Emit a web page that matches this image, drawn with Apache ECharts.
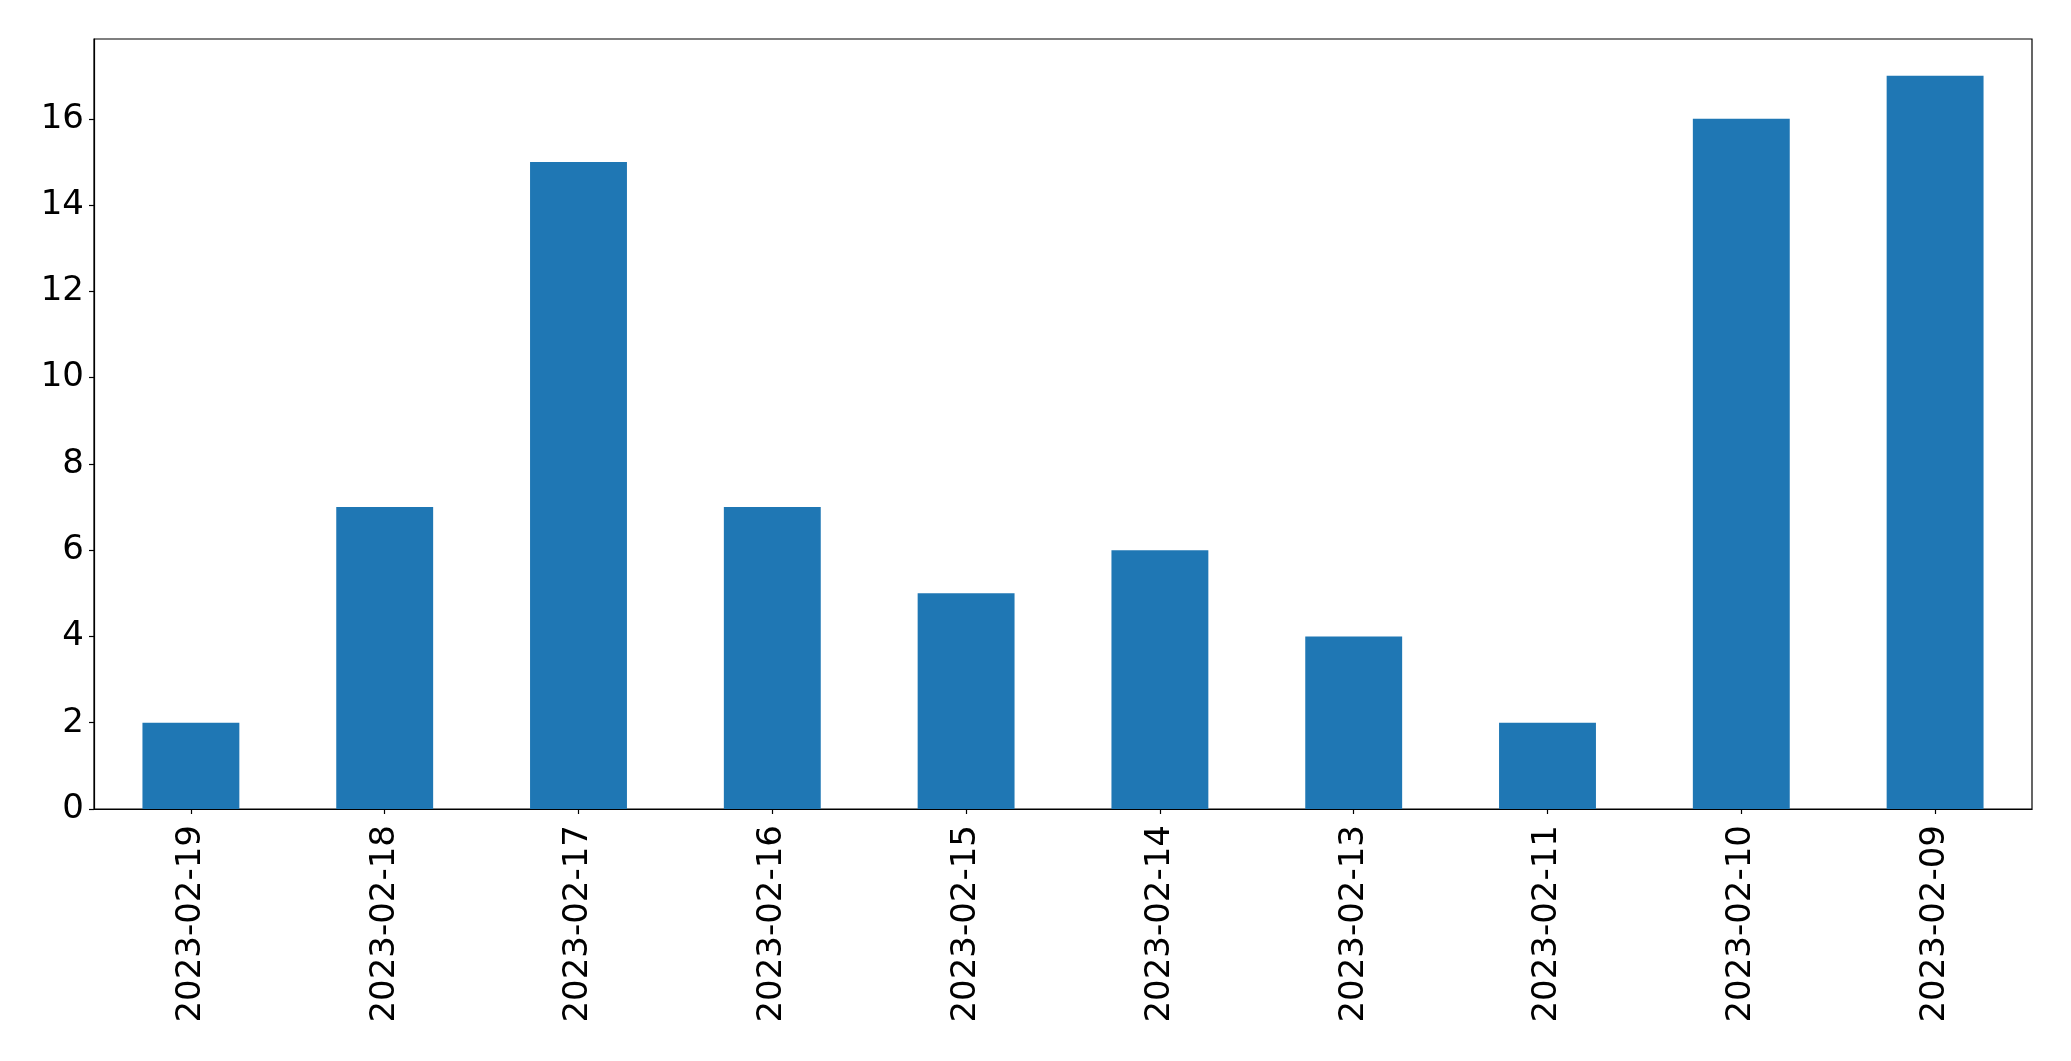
<!DOCTYPE html>
<html>
<head>
<meta charset="utf-8">
<script src="https://cdn.jsdelivr.net/npm/echarts@6/dist/echarts.min.js"></script>
<style>html,body{margin:0;padding:0;background:#fff;}#c{width:2071px;height:1061px;}</style>
</head>
<body>
<div id="c"></div>
<script>
const categories = ['2023-02-19','2023-02-18','2023-02-17','2023-02-16','2023-02-15','2023-02-14','2023-02-13','2023-02-11','2023-02-10','2023-02-09'];
const values = [2, 7, 15, 7, 5, 6, 4, 2, 16, 17];
const yTicks = [0, 2, 4, 6, 8, 10, 12, 14, 16];

const chart = echarts.init(document.getElementById('c'), null, {renderer: 'canvas'});
const font = 'DejaVu Sans';
chart.setOption({
  animation: false,
  backgroundColor: '#ffffff',
  grid: {left: 94, right: 39, top: 39, bottom: 252, show: true, borderColor: '#000', borderWidth: 1.2, backgroundColor: 'transparent'},
  xAxis: {
    type: 'category',
    data: categories,
    axisLine: {show: true, lineStyle: {color: '#000', width: 1.2}},
    axisTick: {show: true, alignWithLabel: true, length: 5, lineStyle: {color: '#000', width: 1.2}},
    axisLabel: {rotate: 90, color: '#000', fontFamily: font, fontSize: 34, margin: 16, interval: 0},
    splitLine: {show: false}
  },
  yAxis: {
    type: 'value',
    min: 0,
    max: 17.85,
    interval: 2,
    axisLine: {show: true, lineStyle: {color: '#000', width: 1.2}},
    axisTick: {show: true, length: 5, lineStyle: {color: '#000', width: 1.2}},
    axisLabel: {color: '#000', fontFamily: font, fontSize: 34, margin: 10, showMaxLabel: false,
      formatter: v => yTicks.includes(v) ? String(v) : ''},
    splitLine: {show: false}
  },
  series: [{
    type: 'bar',
    data: values,
    barWidth: '50%',
    itemStyle: {color: '#1f77b4'}
  }]
});
</script>
</body>
</html>
